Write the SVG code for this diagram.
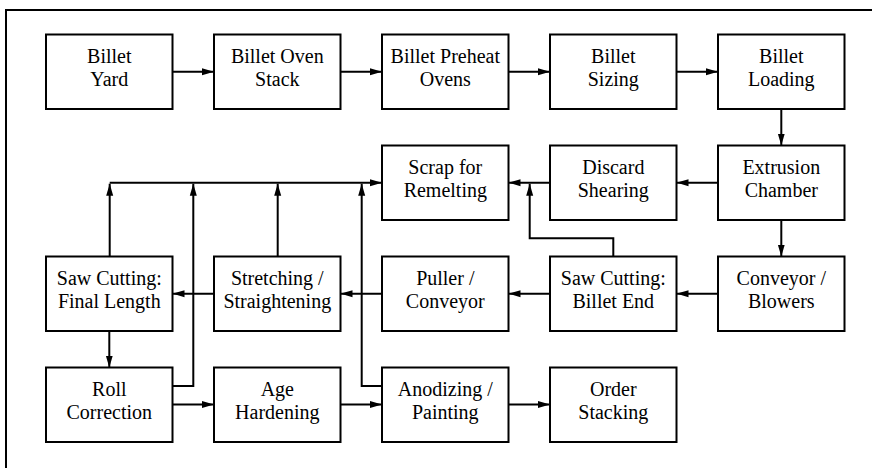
<svg xmlns="http://www.w3.org/2000/svg" width="872" height="468" viewBox="0 0 872 468">
<style>
.box{fill:#fff;stroke:#000;stroke-width:2}
.t{font-family:'Liberation Serif',Tinos,'Times New Roman',Times,'DejaVu Serif',serif;font-size:20px;fill:#000;text-anchor:middle}
.c{fill:none;stroke:#000;stroke-width:2}
.ca{fill:none;stroke:#000;stroke-width:2;marker-end:url(#ah)}
</style>
<defs>
<marker id="ah" markerWidth="12" markerHeight="8" refX="12" refY="4" orient="auto" markerUnits="userSpaceOnUse">
<path d="M0,0.5 L12,4 L0,7.5 z" fill="#000"/>
</marker>
</defs>
<rect x="0" y="0" width="872" height="468" fill="#fff"/>
<rect x="6" y="10" width="900" height="500" fill="none" stroke="#000" stroke-width="2"/>

<g id="connectors">
<line class="ca" x1="172.5" y1="71.7" x2="214" y2="71.7"/>
<line class="ca" x1="340.5" y1="71.7" x2="382" y2="71.7"/>
<line class="ca" x1="508.5" y1="71.7" x2="550" y2="71.7"/>
<line class="ca" x1="676.5" y1="71.7" x2="718" y2="71.7"/>
<line class="ca" x1="781.3" y1="109" x2="781.3" y2="145.5"/>
<line class="ca" x1="718" y1="182.7" x2="676.5" y2="182.7"/>
<line class="ca" x1="550" y1="182.7" x2="508.5" y2="182.7"/>
<line class="ca" x1="781.3" y1="220" x2="781.3" y2="256.5"/>
<line class="ca" x1="718" y1="293.7" x2="676.5" y2="293.7"/>
<line class="ca" x1="550" y1="293.7" x2="508.5" y2="293.7"/>
<line class="ca" x1="382" y1="293.7" x2="340.5" y2="293.7"/>
<line class="ca" x1="214" y1="293.7" x2="172.5" y2="293.7"/>
<line class="ca" x1="109.3" y1="331" x2="109.3" y2="367.5"/>
<line class="ca" x1="172.5" y1="404.5" x2="214" y2="404.5"/>
<line class="ca" x1="340.5" y1="404.5" x2="382" y2="404.5"/>
<line class="ca" x1="508.5" y1="404.5" x2="550" y2="404.5"/>
<line class="ca" x1="109.7" y1="182.7" x2="382" y2="182.7"/>
<line class="ca" x1="109.7" y1="256.5" x2="109.7" y2="183.7"/>
<path class="ca" d="M172.5,386 H193.3 V183.7"/>
<line class="ca" x1="277.7" y1="256.5" x2="277.7" y2="183.7"/>
<path class="ca" d="M382,386 H361.7 V183.7"/>
<path class="ca" d="M613.3,256.5 V238.3 H529.7 V183.7"/>
</g>

<g id="billet-yard"><rect class="box" x="46" y="34.5" width="126.5" height="74.5"/><text class="t" x="109.3" y="63.1">Billet</text><text class="t" x="109.3" y="85.8">Yard</text></g>
<g id="billet-oven-stack"><rect class="box" x="214" y="34.5" width="126.5" height="74.5"/><text class="t" x="277.3" y="63.1">Billet Oven</text><text class="t" x="277.3" y="85.8">Stack</text></g>
<g id="billet-preheat-ovens"><rect class="box" x="382" y="34.5" width="126.5" height="74.5"/><text class="t" x="445.3" y="63.1">Billet Preheat</text><text class="t" x="445.3" y="85.8">Ovens</text></g>
<g id="billet-sizing"><rect class="box" x="550" y="34.5" width="126.5" height="74.5"/><text class="t" x="613.3" y="63.1">Billet</text><text class="t" x="613.3" y="85.8">Sizing</text></g>
<g id="billet-loading"><rect class="box" x="718" y="34.5" width="126.5" height="74.5"/><text class="t" x="781.3" y="63.1">Billet</text><text class="t" x="781.3" y="85.8">Loading</text></g>

<g id="scrap-for-remelting"><rect class="box" x="382" y="145.5" width="126.5" height="74.5"/><text class="t" x="445.3" y="174.1">Scrap for</text><text class="t" x="445.3" y="196.8">Remelting</text></g>
<g id="discard-shearing"><rect class="box" x="550" y="145.5" width="126.5" height="74.5"/><text class="t" x="613.3" y="174.1">Discard</text><text class="t" x="613.3" y="196.8">Shearing</text></g>
<g id="extrusion-chamber"><rect class="box" x="718" y="145.5" width="126.5" height="74.5"/><text class="t" x="781.3" y="174.1">Extrusion</text><text class="t" x="781.3" y="196.8">Chamber</text></g>

<g id="saw-cutting-final-length"><rect class="box" x="46" y="256.5" width="126.5" height="74.5"/><text class="t" x="109.3" y="285.1">Saw Cutting:</text><text class="t" x="109.3" y="307.8">Final Length</text></g>
<g id="stretching-straightening"><rect class="box" x="214" y="256.5" width="126.5" height="74.5"/><text class="t" x="277.3" y="285.1">Stretching /</text><text class="t" x="277.3" y="307.8">Straightening</text></g>
<g id="puller-conveyor"><rect class="box" x="382" y="256.5" width="126.5" height="74.5"/><text class="t" x="445.3" y="285.1">Puller /</text><text class="t" x="445.3" y="307.8">Conveyor</text></g>
<g id="saw-cutting-billet-end"><rect class="box" x="550" y="256.5" width="126.5" height="74.5"/><text class="t" x="613.3" y="285.1">Saw Cutting:</text><text class="t" x="613.3" y="307.8">Billet End</text></g>
<g id="conveyor-blowers"><rect class="box" x="718" y="256.5" width="126.5" height="74.5"/><text class="t" x="781.3" y="285.1">Conveyor /</text><text class="t" x="781.3" y="307.8">Blowers</text></g>

<g id="roll-correction"><rect class="box" x="46" y="367.5" width="126.5" height="74.5"/><text class="t" x="109.3" y="396.1">Roll</text><text class="t" x="109.3" y="418.8">Correction</text></g>
<g id="age-hardening"><rect class="box" x="214" y="367.5" width="126.5" height="74.5"/><text class="t" x="277.3" y="396.1">Age</text><text class="t" x="277.3" y="418.8">Hardening</text></g>
<g id="anodizing-painting"><rect class="box" x="382" y="367.5" width="126.5" height="74.5"/><text class="t" x="445.3" y="396.1">Anodizing /</text><text class="t" x="445.3" y="418.8">Painting</text></g>
<g id="order-stacking"><rect class="box" x="550" y="367.5" width="126.5" height="74.5"/><text class="t" x="613.3" y="396.1">Order</text><text class="t" x="613.3" y="418.8">Stacking</text></g>
</svg>
